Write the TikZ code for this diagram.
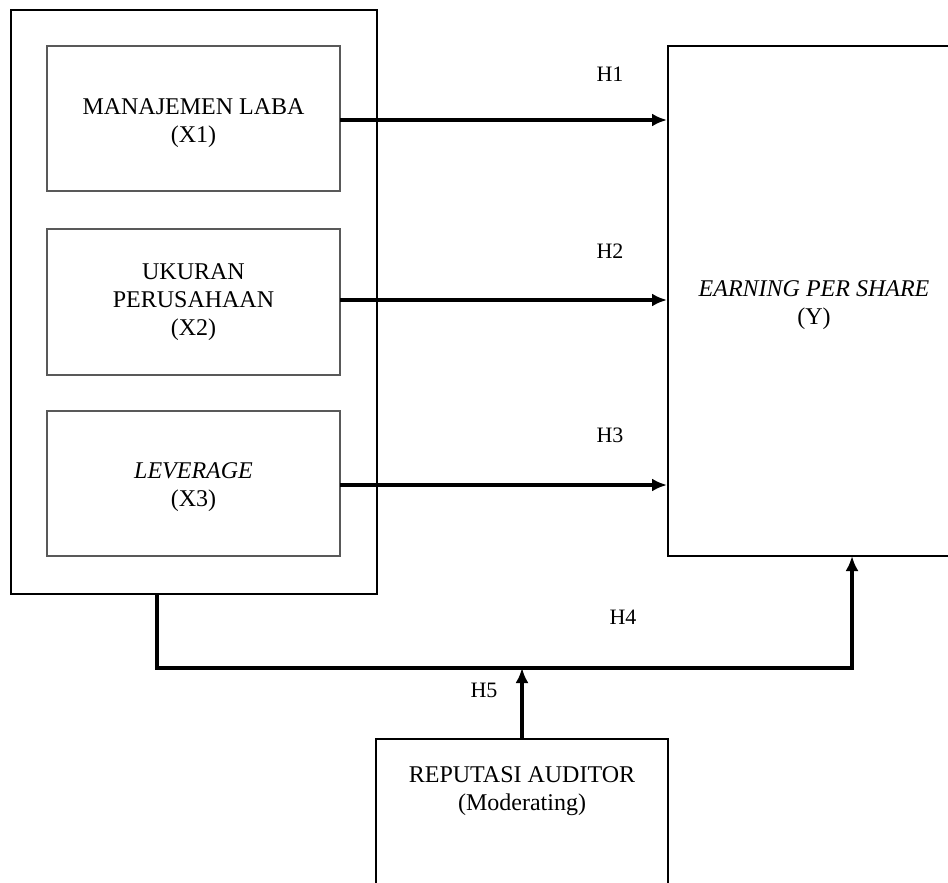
\documentclass[tikz,border=0pt]{standalone}
\usepackage{fontspec}
\setmainfont{Liberation Serif}
\usetikzlibrary{arrows.meta}
\begin{document}
\begin{tikzpicture}[x=1pt,y=-1pt,
  outerbox/.style={draw=black,line width=1.6pt},
  innerbox/.style={draw=black!65,line width=2.6pt},
  txt/.style={align=center,font=\fontsize{24}{28}\selectfont,inner sep=0pt},
  lbl/.style={font=\fontsize{22}{26}\selectfont,inner sep=0pt},
  conn/.style={line width=3.2pt,-{Latex[length=15pt,width=13pt]}},
  link/.style={line width=3pt}]
\useasboundingbox (0,0) rectangle (948,883);
\fill[white] (0,0) rectangle (948,883);
% outer group box
\draw[outerbox] (11,10) rectangle (377,594);
\coordinate (grpbot) at (157,594);
% inner boxes
\draw[innerbox] (47,46) rectangle (340,191);
\node[txt] (x1) at (193.5,123) {MANAJEMEN LABA\\(X1)};
\draw[innerbox] (47,229) rectangle (340,375);
\node[txt] (x2) at (193.5,302) {UKURAN\\PERUSAHAAN\\(X2)};
\draw[innerbox] (47,411) rectangle (340,556);
\node[txt] (x3) at (193.5,487) {\textit{LEVERAGE}\\(X3)};
% right box
\draw[outerbox] (668,46) rectangle (962,556);
\node[txt] (y) at (814,305) {\textit{EARNING PER SHARE}\\(Y)};
% bottom box
\draw[outerbox] (376,739) rectangle (668,900);
\node[txt] (m) at (522,791) {REPUTASI AUDITOR\\(Moderating)};
% coordinates
\coordinate (x1e) at (340,120);
\coordinate (x2e) at (340,300);
\coordinate (x3e) at (340,485);
\coordinate (y1) at (667,120);
\coordinate (y2) at (667,300);
\coordinate (y3) at (667,485);
\coordinate (ybot) at (852,556);
\coordinate (cornerL) at (157,668);
\coordinate (cornerR) at (852,668);
\coordinate (mid) at (522,668);
\coordinate (mtop) at (522,739);
% connectors
\draw[conn] (x1e) -- (y1);
\draw[conn] (x2e) -- (y2);
\draw[conn] (x3e) -- (y3);
\draw[conn,line join=miter] (grpbot) -- (cornerL) -- (cornerR) -- (ybot);
\draw[conn] (mtop) -- (mid);
% labels
\node[lbl] (h1) at (610,74) {H1};
\node[lbl] (h2) at (610,251) {H2};
\node[lbl] (h3) at (610,435) {H3};
\node[lbl] (h4) at (623,617) {H4};
\node[lbl] (h5) at (484,690) {H5};
\end{tikzpicture}
\end{document}
